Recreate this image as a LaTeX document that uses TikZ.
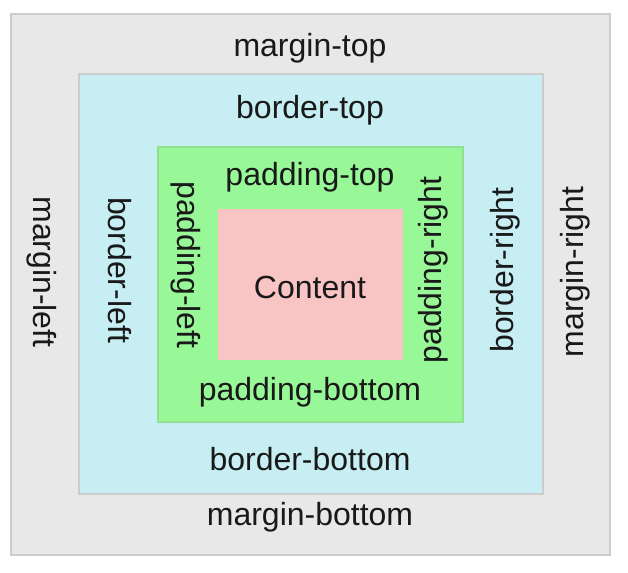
\documentclass[tikz,border=0pt]{standalone}
\usepackage{fontspec}
\setmainfont{Liberation Sans}
\definecolor{margc}{HTML}{E8E8E8}
\definecolor{bordc}{HTML}{C6EEF3}
\definecolor{padc}{HTML}{98F898}
\definecolor{contc}{HTML}{F9C4C4}
\definecolor{edgec}{HTML}{CCCCCC}
\begin{document}
\begin{tikzpicture}[x=1pt,y=-1pt,
  lbl/.style={font=\fontsize{32}{36}\selectfont, text=black!90, inner sep=0pt, anchor=center},
  boxa/.style={draw=edgec, line width=1.2pt}]
\useasboundingbox (0,0) rectangle (628,572);
\fill[white] (0,0) rectangle (628,572);
\filldraw[boxa, fill=margc] (11,14) rectangle (610,555);
\filldraw[boxa, fill=bordc] (79,74) rectangle (543,494);
\filldraw[boxa, fill=padc, draw=padc!80!gray] (158,147) rectangle (463,422);
\fill[contc] (218,209) rectangle (403,360);
\node[lbl] (mt) at (310,48) {margin-top};
\node[lbl] (mb) at (310,517) {margin-bottom};
\node[lbl, rotate=-90] (ml) at (42,272) {margin-left};
\node[lbl, rotate=90] (mr) at (575,272) {margin-right};
\node[lbl] (bt) at (310,110) {border-top};
\node[lbl] (bb) at (310,459) {border-bottom};
\node[lbl, rotate=-90] (bl) at (120,270) {border-left};
\node[lbl, rotate=90] (br) at (505,270) {border-right};
\node[lbl] (pt) at (310,177) {padding-top};
\node[lbl] (pb) at (310,392) {padding-bottom};
\node[lbl, rotate=-90] (pl) at (186,265) {padding-left};
\node[lbl, rotate=90] (pr) at (433,270) {padding-right};
\node[lbl] (ct) at (310,287) {Content};
\end{tikzpicture}
\end{document}
